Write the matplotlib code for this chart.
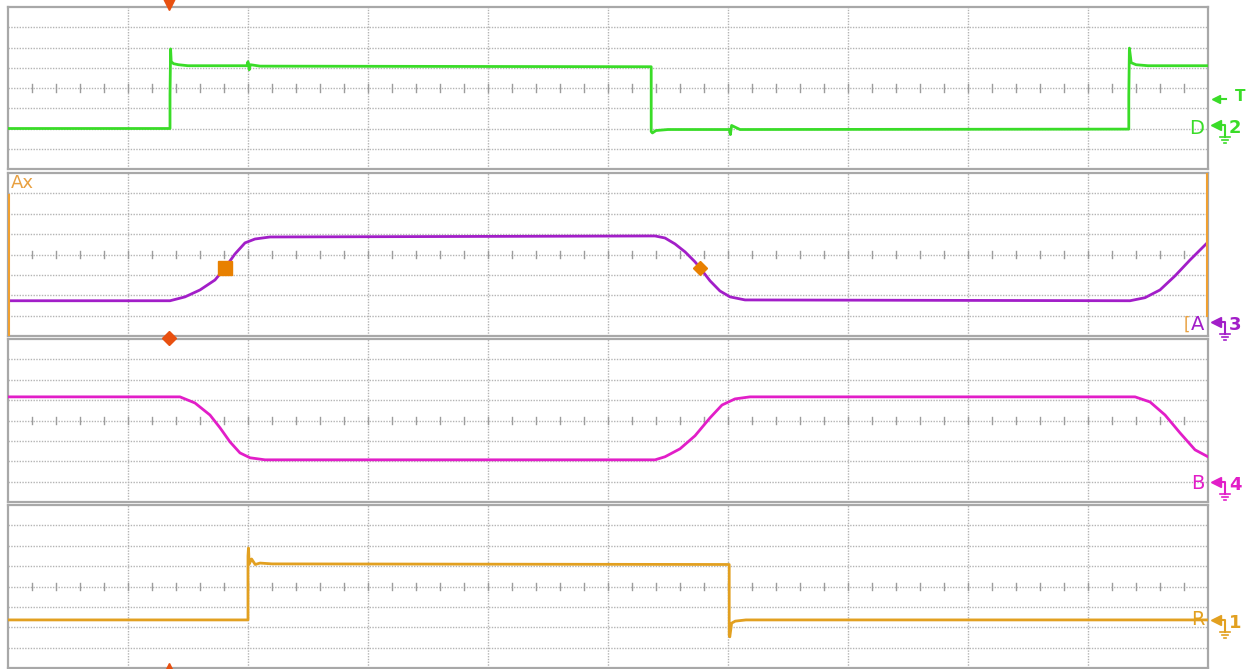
import numpy as np
import matplotlib.pyplot as plt

W, H = 1247, 669

# traces in graticule divisions (x: 0..10, y: 0..8 from panel bottom)
d_x = [0, 1.35, 1.35, 1.355, 1.36, 1.38, 1.42, 1.5, 1.99, 2.0, 2.01, 2.02, 2.1,
       5.36, 5.36, 5.37, 5.4, 5.5, 6.01, 6.02, 6.03, 6.1,
       9.34, 9.34, 9.345, 9.36, 9.4, 9.5, 10]
d_y = [2.0, 2.0, 3.65, 5.93, 5.3, 5.2, 5.15, 5.1, 5.1, 5.3, 4.9, 5.15, 5.08,
       5.05, 1.85, 1.78, 1.9, 1.95, 1.95, 1.7, 2.15, 1.95,
       1.97, 3.6, 5.97, 5.25, 5.15, 5.1, 5.1]

a_x = [0, 1.35, 1.475, 1.6, 1.725, 1.808, 1.892, 1.975, 2.058, 2.183,
       5.392, 5.475, 5.558, 5.642, 5.725, 5.767, 5.85, 5.933, 6.017, 6.142,
       9.35, 9.475, 9.6, 9.725, 9.85, 10]
a_y = [1.73, 1.73, 1.92, 2.26, 2.75, 3.34, 4.03, 4.57, 4.76, 4.86,
       4.91, 4.81, 4.52, 4.13, 3.64, 3.34, 2.71, 2.21, 1.92, 1.77,
       1.73, 1.88, 2.26, 2.95, 3.73, 4.61]

b_x = [0, 1.433, 1.558, 1.683, 1.767, 1.85, 1.933, 2.017, 2.142,
       5.392, 5.475, 5.6, 5.725, 5.85, 5.95, 6.058, 6.183,
       9.392, 9.517, 9.642, 9.767, 9.892, 10]
b_y = [5.16, 5.16, 4.86, 4.27, 3.64, 2.95, 2.41, 2.17, 2.07,
       2.07, 2.22, 2.61, 3.25, 4.13, 4.76, 5.06, 5.16,
       5.16, 4.91, 4.27, 3.39, 2.56, 2.22]

r_x = [0, 2.0, 2.0, 2.004, 2.01, 2.03, 2.06, 2.1, 2.2,
       6.01, 6.01, 6.015, 6.03, 6.06, 6.15, 10]
r_y = [2.36, 2.36, 5.5, 5.89, 5.1, 5.35, 5.08, 5.15, 5.11,
       5.08, 1.6, 1.53, 2.2, 2.3, 2.36, 2.36]

cursor_idx = [5, 15]   # cursor points on trace A
trig_x = 1.342
trig_level = 3.46

labels = ["D", "A", "B", "R"]
chan_nums = ["2", "3", "4", "1"]
colors = ["#3ADC28", "#A21EC8", "#E21EC8", "#E2A020"]
label_y = [2.02, 0.55, 0.89, 2.36]
ind_y = [125, 322, 482, 620]   # pixel rows of channel indicators

# panel boxes in pixels: top, bottom
panels = [(7, 169), (173, 336), (339, 502), (505, 668)]
xs = [d_x, a_x, b_x, r_x]
ys = [d_y, a_y, b_y, r_y]

fig = plt.figure(figsize=(W / 100, H / 100), dpi=100)
fig.patch.set_facecolor("white")

grid_c = "#B4B4B4"
axes = []
for i, (top, bot) in enumerate(panels):
    ax = fig.add_axes([8 / W, 1 - bot / H, 1200 / W, (bot - top) / H])
    ax.set_xlim(0, 10)
    ax.set_ylim(0, 8)
    ax.set_xticks([])
    ax.set_yticks([])
    for s in ax.spines.values():
        s.set_color("#A8A8A8")
        s.set_linewidth(1.6)
    for gx in range(1, 10):
        ax.axvline(gx, color=grid_c, lw=1, ls=(0, (1, 1)), zorder=1)
    for gy in range(1, 8):
        ax.axhline(gy, color=grid_c, lw=1, ls=(0, (1, 1)), zorder=1)
    for tx in np.arange(0.2, 10, 0.2):
        ax.plot([tx, tx], [3.82, 4.18], color="#9C9C9C", lw=1, zorder=1)
    ax.plot(xs[i], ys[i], color=colors[i], lw=2, zorder=3)
    ax.text(9.97, label_y[i], labels[i], color=colors[i], fontsize=14,
            ha="right", va="center", zorder=4)
    axes.append(ax)

# cursors on trace A
ax2 = axes[1]
ax2.plot(a_x[cursor_idx[0]], a_y[cursor_idx[0]], marker="s", ms=10,
         color="#E88000", zorder=5)
ax2.plot(a_x[cursor_idx[1]], a_y[cursor_idx[1]], marker="D", ms=7.5,
         color="#E88000", zorder=5)
ax2.text(0.02, 7.95, "Ax", color="#E8A040", fontsize=13, ha="left", va="top")
ax2.plot([0.005, 0.005], [0, 6.9], color="#F0A030", lw=1.5, zorder=4)
ax2.plot([9.995, 9.995], [1.0, 8], color="#F0A030", lw=1.5, zorder=4)
ax2.text(9.85, 0.55, "[", color="#E8A040", fontsize=12, ha="right", va="center")

# overlay in pixel space for markers outside the panels
ov = fig.add_axes([0, 0, 1, 1], zorder=10)
ov.set_xlim(0, W)
ov.set_ylim(H, 0)
ov.axis("off")
ov.patch.set_alpha(0)

# trigger position markers
red = "#E85010"
tpx = 8 + trig_x * 120
ov.plot(tpx, 4, marker="v", ms=8, color=red)
ov.plot(tpx, 338, marker="D", ms=7, color=red)
ov.plot(tpx, 669, marker="^", ms=9, color=red)

trig_py = 7 + (8 - trig_level) * 162 / 8
ov.plot([1216, 1226], [trig_py, trig_py], color=colors[0], lw=1.5)
ov.plot(1216, trig_py, marker="<", ms=6, color=colors[0])
ov.text(1240, trig_py - 2, "T", color=colors[0], fontsize=11, fontweight="bold",
        ha="center", va="center")

for i in range(4):
    y0 = ind_y[i]
    c = colors[i]
    ov.plot(1216, y0, marker="<", ms=7, color=c)
    ov.plot([1218, 1225, 1225], [y0, y0, y0 + 12], color=c, lw=1.5)
    ov.plot([1220, 1230], [y0 + 12, y0 + 12], color=c, lw=1.2)
    ov.plot([1222, 1228], [y0 + 15, y0 + 15], color=c, lw=1.2)
    ov.plot([1224, 1226], [y0 + 18, y0 + 18], color=c, lw=1.2)
    ov.text(1235, y0 + 3, chan_nums[i], color=c, fontsize=13, fontweight="bold",
            ha="center", va="center")

fig.savefig("out.png", dpi=100)
